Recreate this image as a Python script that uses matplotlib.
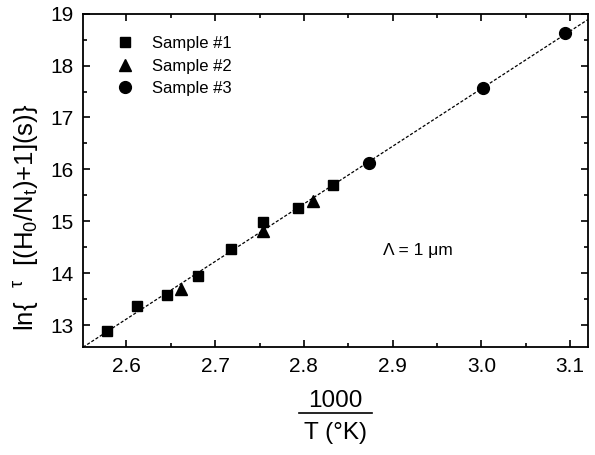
import numpy as np
import matplotlib
matplotlib.use("Agg")
import matplotlib.pyplot as plt
from matplotlib.lines import Line2D
from matplotlib.ticker import MultipleLocator

plt.rcParams["font.family"] = ["Liberation Sans", "DejaVu Sans"]
plt.rcParams["mathtext.default"] = "regular"

s1_x = [2.578, 2.612, 2.646, 2.681, 2.718, 2.754, 2.793, 2.833]
s1_y = [12.88, 13.36, 13.58, 13.94, 14.46, 14.98, 15.26, 15.70]
s2_x = [2.661, 2.754, 2.810]
s2_y = [13.70, 14.82, 15.40]
s3_x = [2.873, 3.002, 3.094]
s3_y = [16.12, 17.56, 18.62]

x_ticks = [2.6, 2.7, 2.8, 2.9, 3.0, 3.1]
y_ticks = [13, 14, 15, 16, 17, 18, 19]

fig = plt.figure(figsize=(5.95, 4.55), dpi=100)
ax = fig.add_axes([0.1395, 0.2374, 0.8485, 0.7326])

all_x = np.array(s1_x + s2_x + s3_x)
all_y = np.array(s1_y + s2_y + s3_y)
slope, icpt = np.polyfit(all_x, all_y, 1)
xl = np.array([2.551, 3.12])
ax.plot(xl, slope * xl + icpt, ls=(0, (2.5, 1.5)), color="black", lw=0.9)

ax.plot(s1_x, s1_y, "s", color="black", ms=7.5, label="Sample #1")
ax.plot(s2_x, s2_y, "^", color="black", ms=8, label="Sample #2")
ax.plot(s3_x, s3_y, "o", color="black", ms=8.5, label="Sample #3")

ax.set_xlim(2.551, 3.12)
ax.set_ylim(12.58, 19.0)
ax.set_xticks(x_ticks)
ax.set_xticklabels([f"{v:.1f}" for v in x_ticks])
ax.set_yticks(y_ticks)
ax.xaxis.set_minor_locator(MultipleLocator(0.05))
ax.yaxis.set_minor_locator(MultipleLocator(0.5))
ax.tick_params(which="both", direction="in", top=True, right=True, labelsize=15, width=1.2)
ax.tick_params(which="major", length=5, pad=7)
ax.tick_params(which="minor", length=3)
for sp in ax.spines.values():
    sp.set_linewidth(1.3)

ax.legend(loc="upper left", bbox_to_anchor=(0.028, 0.977), frameon=False, fontsize=12,
          handletextpad=0.9, labelspacing=0.45, handlelength=1.5)

ax.text(0.595, 0.275, "Λ = 1 μm", transform=ax.transAxes, fontsize=12.5)

ax.set_ylabel("ln{  $^{τ}$  [(H$_0$/N$_t$)+1](s)}", fontsize=18.5)
ax.yaxis.set_label_coords(-0.083, 0.39)

fig.text(335 / 595, 1 - 401 / 455, "1000", ha="center", va="center", fontsize=17.5)
fig.add_artist(Line2D([299 / 595, 372 / 595], [1 - 413 / 455, 1 - 413 / 455], color="black", lw=1.2))
fig.text(335 / 595, 1 - 433 / 455, "T (°K)", ha="center", va="center", fontsize=17.5)

fig.savefig("out.png", dpi=100)
